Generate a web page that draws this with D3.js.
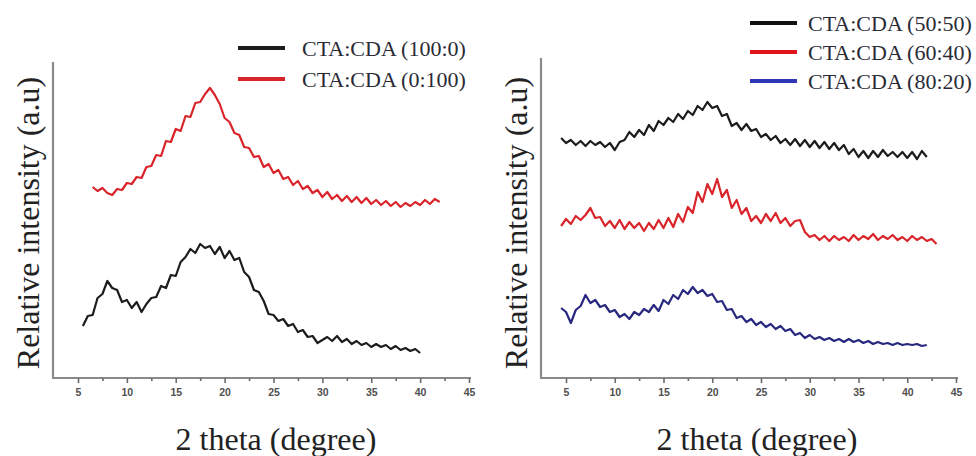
<!DOCTYPE html>
<html>
<head>
<meta charset="utf-8">
<script src="https://cdn.jsdelivr.net/npm/d3@7"></script>
<style>
  html, body { margin: 0; padding: 0; background: #fff; }
  svg { display: block; }
</style>
</head>
<body>
<div id="chart"></div>
<script>
/* XRD patterns, two panels: 2 theta (degree) vs relative intensity (a.u) */

const W = 976, H = 456;

// axis ticks
const majorTicks = [5, 10, 15, 20, 25, 30, 35, 40, 45];
const minorTicks = [7.5, 12.5, 17.5, 22.5, 27.5, 32.5, 37.5, 42.5];

// sampling: start angle + step of 0.5 degree per value
const STEP = 0.5;

// left panel
const cta100Start = 5.5;
const cta100 = [52, 62, 63, 80, 84, 97, 90, 88, 76, 78, 70, 76, 66, 74, 80, 81, 92, 90, 103, 102,
  116, 121, 129, 125, 134, 130, 132, 124, 131, 120, 127, 118, 120, 106, 101, 88, 86, 77, 64, 63,
  57, 59, 52, 54, 46, 48, 41, 42, 35, 38, 41, 37, 42, 36, 39, 34, 37, 33, 35, 31,
  34, 31, 33, 29, 32, 28, 30, 27, 29, 25];

const cda100Start = 6.5;
const cda100 = [191, 187, 190, 185, 183, 189, 188, 195, 194, 201, 200, 211, 212, 223, 222, 237, 236, 249, 247, 262,
  261, 275, 276, 284, 290, 283, 274, 260, 256, 245, 243, 231, 230, 221, 222, 211, 214, 205, 208, 199,
  201, 193, 197, 189, 192, 185, 188, 181, 186, 179, 183, 177, 182, 176, 181, 175, 180, 174, 178, 173,
  177, 172, 176, 171, 175, 172, 176, 173, 178, 174, 179, 176];

// right panel
const mix5050Start = 4.5;
const mix5050 = [240, 235, 238, 233, 237, 232, 237, 233, 236, 231, 235, 228, 236, 238, 246, 241, 248, 243, 253, 247,
  257, 253, 260, 256, 264, 259, 267, 263, 272, 268, 276, 270, 272, 262, 264, 252, 255, 248, 254, 247,
  249, 241, 244, 238, 242, 235, 239, 233, 239, 232, 238, 231, 237, 230, 236, 229, 235, 228, 233, 224,
  229, 221, 227, 220, 227, 221, 228, 222, 226, 221, 226, 220, 226, 219, 227, 221];

const mix6040Start = 4.5;
const mix6040 = [152, 159, 154, 162, 158, 163, 170, 160, 161, 152, 157, 150, 158, 149, 156, 150, 155, 147, 155, 149,
  158, 150, 160, 151, 164, 156, 171, 165, 186, 176, 194, 184, 199, 181, 188, 170, 178, 164, 170, 157,
  162, 155, 164, 157, 165, 155, 160, 152, 157, 158, 146, 141, 143, 138, 142, 137, 142, 138, 141, 137,
  143, 138, 142, 139, 144, 138, 142, 139, 143, 138, 141, 137, 142, 138, 141, 137, 139, 134];

const mix8020Start = 4.5;
const mix8020 = [70, 66, 55, 68, 72, 83, 75, 78, 71, 73, 66, 68, 61, 64, 59, 66, 63, 69, 66, 73,
  67, 78, 74, 83, 79, 88, 84, 91, 85, 88, 82, 84, 76, 77, 68, 69, 60, 62, 56, 59,
  53, 56, 51, 54, 49, 52, 47, 49, 43, 45, 40, 43, 39, 41, 38, 40, 37, 39, 36, 39,
  36, 38, 35, 37, 34, 36, 34, 35, 33, 35, 33, 34, 33, 34, 32, 33];

const leftSeries = [
  { label: "CTA:CDA (100:0)", start: cta100Start, values: cta100, color: "#1c1c1c" },
  { label: "CTA:CDA (0:100)", start: cda100Start, values: cda100, color: "#d8242a" }
];
const rightSeries = [
  { label: "CTA:CDA (50:50)", start: mix5050Start, values: mix5050, color: "#1c1c1c", key: "#111" },
  { label: "CTA:CDA (60:40)", start: mix6040Start, values: mix6040, color: "#d8242a", key: "#e0141c" },
  { label: "CTA:CDA (80:20)", start: mix8020Start, values: mix8020, color: "#27287e", key: "#2f36b8" }
];

const svg = d3.select("#chart").append("svg")
  .attr("width", W)
  .attr("height", H)
  .attr("viewBox", `0 0 ${W} ${H}`);

const y = d3.scaleLinear().domain([0, 320]).range([378, 58]);

function drawPanel(cfg) {
  const g = svg.append("g");
  const x = d3.scaleLinear().domain([5, 45]).range(cfg.xRange);

  // axis lines
  g.append("line")
    .attr("x1", cfg.axisX).attr("x2", cfg.axisX)
    .attr("y1", y(cfg.yTop)).attr("y2", y(0))
    .attr("stroke", "#8a8a8a").attr("stroke-width", 2.2);
  g.append("line")
    .attr("x1", cfg.axisX - 1).attr("x2", x(45) + 2)
    .attr("y1", y(0)).attr("y2", y(0))
    .attr("stroke", "#8a8a8a").attr("stroke-width", 2.2);

  // major ticks + labels
  const ax = g.append("g")
    .attr("transform", `translate(0,${y(0)})`)
    .call(d3.axisBottom(x).tickValues(majorTicks).tickSize(5).tickPadding(6).tickFormat(d3.format("d")));
  ax.select(".domain").remove();
  ax.selectAll(".tick line").attr("stroke", "#6a6a6a").attr("stroke-width", 1.6);
  ax.selectAll(".tick text")
    .attr("fill", "#505050")
    .style("font-family", "'Liberation Sans', Arial, sans-serif")
    .style("font-weight", "bold")
    .style("font-size", "10.5px");

  // minor ticks
  const mx = g.append("g")
    .attr("transform", `translate(0,${y(0)})`)
    .call(d3.axisBottom(x).tickValues(minorTicks).tickSize(3).tickFormat(""));
  mx.select(".domain").remove();
  mx.selectAll(".tick line").attr("stroke", "#6a6a6a").attr("stroke-width", 1.6);

  // curves
  const line = d3.line().x(d => x(d[0])).y(d => y(d[1]));
  cfg.series.forEach(s => {
    const pts = s.values.map((v, i) => [s.start + i * STEP, v]);
    g.append("path")
      .datum(pts)
      .attr("fill", "none")
      .attr("stroke", s.color)
      .attr("stroke-width", 2.2)
      .attr("stroke-linejoin", "round")
      .attr("d", line);
  });

  // legend
  const lg = g.append("g").attr("transform", `translate(${cfg.legend.x},${cfg.legend.y})`);
  cfg.series.forEach((s, i) => {
    const yy = i * cfg.legend.gap;
    lg.append("line")
      .attr("x1", 0).attr("x2", 47)
      .attr("y1", yy).attr("y2", yy)
      .attr("stroke", s.key || s.color)
      .attr("stroke-width", 4);
    lg.append("text")
      .attr("x", cfg.legend.textDx).attr("y", yy)
      .attr("dy", "0.35em")
      .attr("fill", "#2a2b36")
      .style("font-family", "'Liberation Serif', 'Times New Roman', serif")
      .style("font-size", "22px")
      .text(s.label);
  });

  // axis titles
  g.append("text")
    .attr("transform", `translate(${cfg.yLabelX},223) rotate(-90)`)
    .attr("text-anchor", "middle")
    .attr("dy", "0.35em")
    .attr("fill", "#222")
    .style("font-family", "'Liberation Serif', 'Times New Roman', serif")
    .style("font-size", "32px")
    .text("Relative intensity (a.u)");
  g.append("text")
    .attr("x", cfg.xLabelX).attr("y", 450)
    .attr("text-anchor", "middle")
    .attr("fill", "#222")
    .style("font-family", "'Liberation Serif', 'Times New Roman', serif")
    .style("font-size", "32px")
    .text("2 theta (degree)");
}

drawPanel({
  xRange: [78, 469], axisX: 53, yTop: 316,
  series: leftSeries,
  legend: { x: 238, y: 48, gap: 31, textDx: 64 },
  yLabelX: 28, xLabelX: 276
});

drawPanel({
  xRange: [566, 956], axisX: 541, yTop: 320,
  series: rightSeries,
  legend: { x: 750, y: 23, gap: 29, textDx: 58 },
  yLabelX: 516, xLabelX: 757
});
</script>
</body>
</html>
